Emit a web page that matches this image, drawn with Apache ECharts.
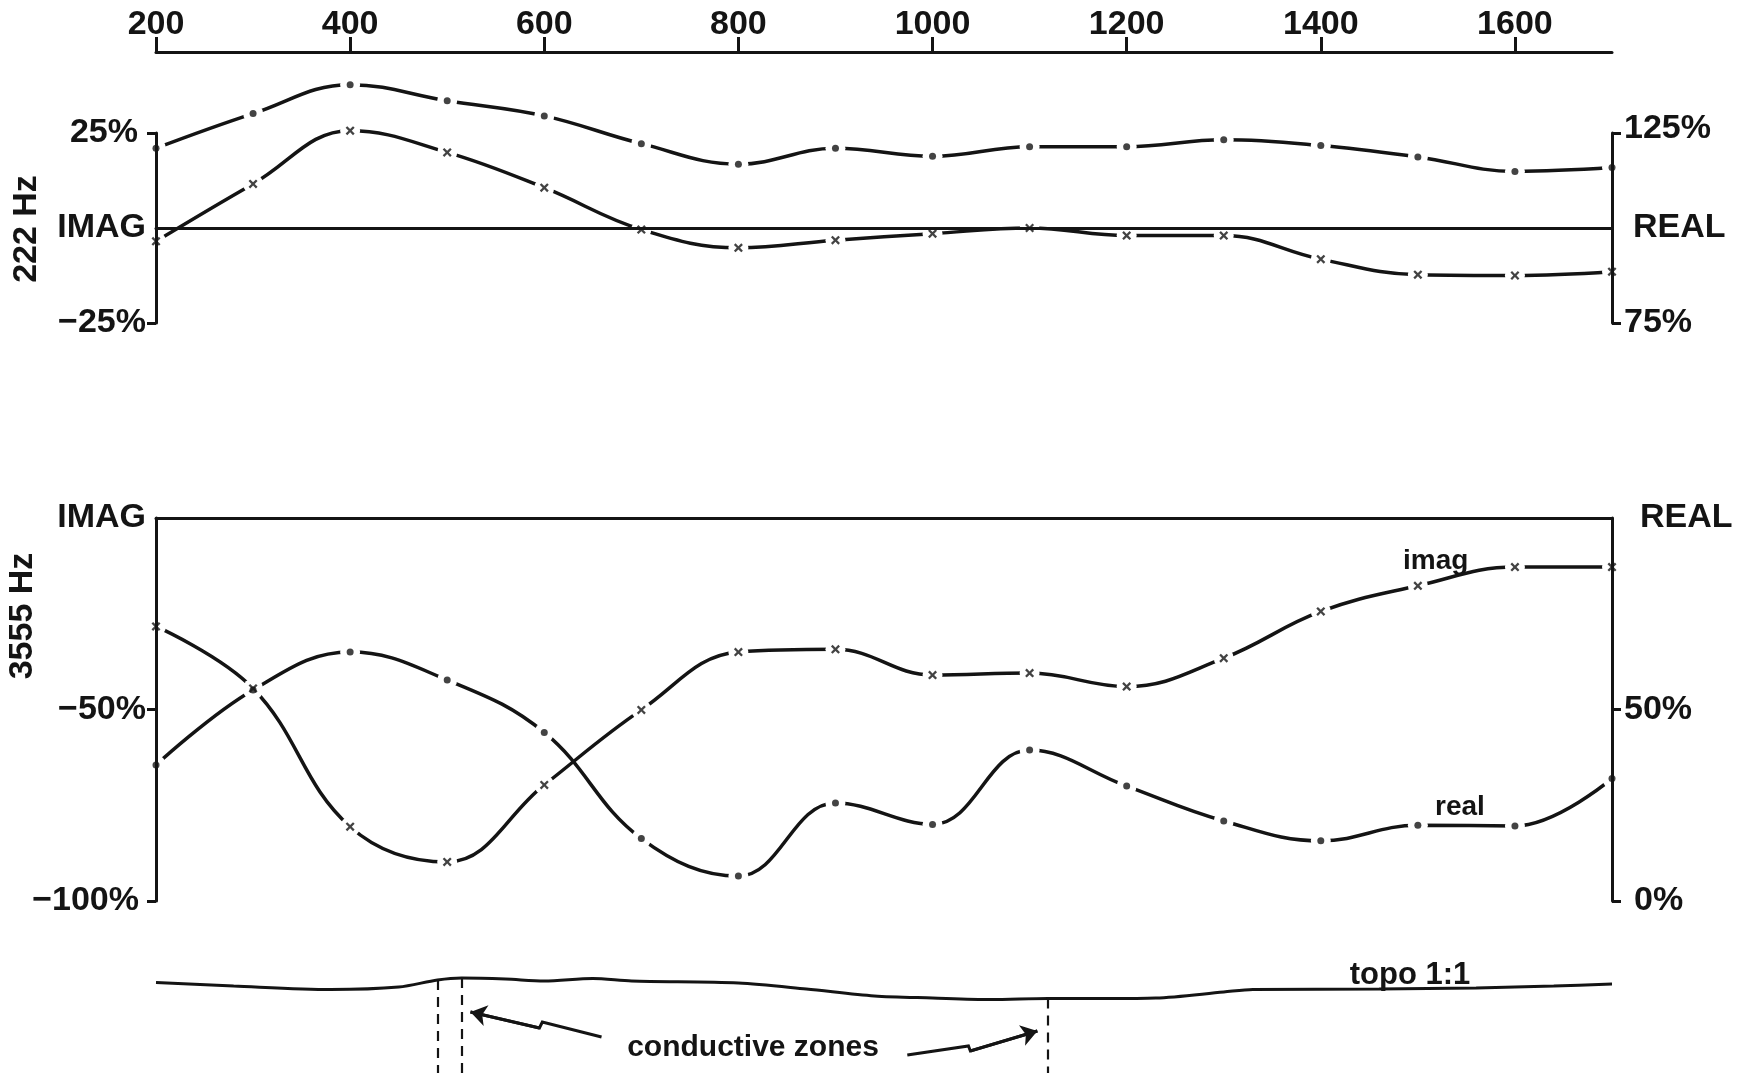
<!DOCTYPE html>
<html>
<head>
<meta charset="utf-8">
<title>222 Hz / 3555 Hz profile</title>
<script src="https://cdn.jsdelivr.net/npm/echarts@6/dist/echarts.min.js"></script>
<style>
  html, body { margin: 0; padding: 0; background: #fff; }
  #chart { width: 1749px; height: 1073px; }
</style>
</head>
<body>
<div id="chart"></div>
<script>
// stations along the profile
const stations = [200, 300, 400, 500, 600, 700, 800, 900, 1000, 1100, 1200, 1300, 1400, 1500, 1600, 1700];
const distanceTicks = [200, 400, 600, 800, 1000, 1200, 1400, 1600];

// 222 Hz : imag on the left axis, real on the right axis (percent)
const imag222 = [-3.5, 11.6, 25.6, 19.9, 10.6, -0.4, -5.2, -3.2, -1.5, 0, -2, -2, -8.2, -12.3, -12.5, -11.5];
const real222 = [121.0, 130.1, 137.7, 133.5, 129.5, 122.2, 116.8, 121.0, 118.9, 121.4, 121.4, 123.2, 121.7, 118.7, 114.9, 115.9];

// 3555 Hz
const imag3555 = [-28.3, -44.5, -80.6, -89.8, -69.7, -50.1, -35.0, -34.3, -41.0, -40.5, -44.0, -36.6, -24.4, -17.7, -12.8, -12.8];
const real3555 = [35.5, 55.1, 65.0, 57.7, 44.0, 16.3, 6.5, 25.6, 20.0, 39.4, 30.0, 20.9, 15.7, 19.8, 19.6, 32.0];

// topography trace, relative height (arbitrary units, 1:1)
const topoX = [200, 280, 380, 450, 490, 515, 560, 600, 650, 690, 800, 870, 940, 1000, 1060, 1119, 1180, 1230, 1300, 1330, 1460, 1560, 1640, 1700];
const topoH = [-0.5, -4, -7.5, -5, 2, 4, 3, 1, 3.5, 1, -1, -7, -14, -16, -17.5, -16.5, -16.5, -16, -10, -7.5, -7, -6, -4, -2];

// conductive zones picked on the profile
const zoneX = [490, 515, 1119];

// zigzag pointers, head first (profile x, relative height)
const arrowLeft = [[524, -30], [595, -46], [598, -40], [659, -55]];
const arrowRight = [[1108, -49], [1039, -69], [1037, -64], [974, -73]];

const INK = '#141414';
const FONT = '"Liberation Sans", Arial, Helvetica, sans-serif';
const X_MARK = 'path://M0,1.8 L1.8,0 L5,3.2 L8.2,0 L10,1.8 L6.8,5 L10,8.2 L8.2,10 L5,6.8 L1.8,10 L0,8.2 L3.2,5 Z';
const TOPO_MIN = -91, TOPO_MAX = 22;

const zip = (xs, ys) => xs.map((x, i) => [x, ys[i]]);
const txt = (extra) => Object.assign({ fontSize: 34, fontWeight: 'bold', fontFamily: FONT, color: INK }, extra || {});

// one plotted curve = smooth line with white gaps at stations + marker on top
function curve(ys, xi, yi, mark) {
  const data = zip(stations, ys);
  return [
    {
      type: 'line', xAxisIndex: xi, yAxisIndex: yi, data,
      smooth: 0.4, clip: false, z: 2,
      symbol: 'circle', symbolSize: 20, showAllSymbol: true,
      itemStyle: { color: '#fff' },
      lineStyle: { color: INK, width: 3.5 },
      emphasis: { disabled: true }, silent: true,
    },
    {
      type: 'scatter', xAxisIndex: xi, yAxisIndex: yi, data,
      clip: false, z: 3,
      symbol: mark === 'x' ? X_MARK : 'circle',
      symbolSize: mark === 'x' ? 9 : 7,
      itemStyle: { color: INK },
      emphasis: { disabled: true }, silent: true,
    },
  ];
}

const line = { show: true, onZero: false, lineStyle: { color: INK, width: 3 } };
const noAxis = { show: false };

function yAxis(grid, pos, min, max, interval, ticks, formatter, rich) {
  return {
    gridIndex: grid, type: 'value', position: pos, min, max, interval, z: 10,
    axisLine: line,
    axisTick: { show: true, inside: false, length: 9, customValues: ticks, lineStyle: { color: INK, width: 3 } },
    axisLabel: txt({ margin: pos === 'left' ? 10 : 12, formatter, rich }),
    splitLine: noAxis,
  };
}

function note(text, x, y, size, align) {
  return { type: 'text', x, y,
    style: { text, fontSize: size, fontWeight: 'bold', fontFamily: FONT, fill: INK, align, verticalAlign: 'middle' } };
}

const chart = echarts.init(document.getElementById('chart'), null, { renderer: 'canvas' });

const topoAt = (x) => topoH[topoX.indexOf(x)];

chart.setOption({
  animation: false,
  backgroundColor: '#fff',
  grid: [
    { left: 156, right: 137, top: 133, height: 190 },
    { left: 156, right: 137, top: 518, height: 383 },
    { left: 156, right: 137, top: 960, height: 113 },
  ],
  xAxis: [
    {
      gridIndex: 0, type: 'value', position: 'top', offset: 81, min: 200, max: 1700, interval: 200, z: 10,
      axisLine: line,
      axisTick: { show: true, inside: false, length: 15, customValues: distanceTicks, lineStyle: { color: INK, width: 3 } },
      axisLabel: txt({ customValues: distanceTicks, margin: 10, formatter: v => String(v) }),
      splitLine: noAxis,
    },
    {
      gridIndex: 0, type: 'value', position: 'bottom', min: 200, max: 1700, z: 10,
      axisLine: { show: true, onZero: true, onZeroAxisIndex: 0, lineStyle: { color: INK, width: 3 } },
      axisTick: noAxis, axisLabel: noAxis, splitLine: noAxis,
    },
    {
      gridIndex: 1, type: 'value', position: 'top', min: 200, max: 1700, z: 10,
      axisLine: line, axisTick: noAxis, axisLabel: noAxis, splitLine: noAxis,
    },
    { gridIndex: 2, type: 'value', min: 200, max: 1700, show: false },
  ],
  yAxis: [
    yAxis(0, 'left', -25, 25, 25, [-25, 25],
      v => v === 0 ? 'IMAG' : v > 0 ? '{a|' + v + '%}' : '−' + Math.abs(v) + '%',
      { a: txt({ padding: [0, 8, 0, 0] }) }),
    yAxis(0, 'right', 75, 125, 25, [75, 125],
      v => v === 100 ? '{r|REAL}' : v === 125 ? '{t|125%}' : v + '%',
      { r: txt({ padding: [0, 0, 0, 9] }), t: txt({ padding: [0, 0, 8, 0] }) }),
    yAxis(1, 'left', -100, 0, 50, [-100, -50],
      v => v === 0 ? 'IMAG' : v === -100 ? '{s|−100%}' : '−' + Math.abs(v) + '%',
      { s: txt({ padding: [0, 7, 0, 0] }) }),
    yAxis(1, 'right', 0, 100, 50, [0, 50],
      v => v === 100 ? '{r|REAL}' : v === 0 ? '{z|0%}' : v + '%',
      { r: txt({ padding: [0, 0, 0, 16] }), z: txt({ padding: [0, 0, 0, 10] }) }),
    { gridIndex: 2, type: 'value', min: TOPO_MIN, max: TOPO_MAX, show: false },
  ],
  series: [
    ...curve(real222, 1, 1, 'dot'),
    ...curve(imag222, 1, 0, 'x'),
    ...curve(imag3555, 2, 2, 'x'),
    ...curve(real3555, 2, 3, 'dot'),
    {
      type: 'line', xAxisIndex: 3, yAxisIndex: 4, data: zip(topoX, topoH),
      smooth: 0.3, symbol: 'none', silent: true,
      lineStyle: { color: INK, width: 3 },
      markLine: {
        silent: true, symbol: 'none', label: { show: false },
        lineStyle: { color: INK, width: 2.2, type: [10, 7] },
        data: zoneX.map(x => [{ coord: [x, topoAt(x)] }, { coord: [x, TOPO_MIN] }]),
      },
    },
    {
      type: 'lines', coordinateSystem: 'cartesian2d', xAxisIndex: 3, yAxisIndex: 4,
      polyline: true, silent: true, symbol: 'none',
      lineStyle: { color: INK, width: 3, opacity: 1, curveness: 0 },
      data: [arrowLeft, arrowRight].map(a => ({ coords: a })),
    },
    {
      type: 'lines', coordinateSystem: 'cartesian2d', xAxisIndex: 3, yAxisIndex: 4,
      silent: true, symbol: ['arrow', 'none'], symbolSize: 16,
      lineStyle: { color: INK, width: 3, opacity: 1, curveness: 0 },
      data: [arrowLeft, arrowRight].map(a => ({ coords: [a[0], a[1]] })),
    },
  ],
  graphic: [
    Object.assign(note('222 Hz', 27, 229, 34, 'center'), { rotation: Math.PI / 2 }),
    Object.assign(note('3555 Hz', 23, 616, 34, 'center'), { rotation: Math.PI / 2 }),
    note('imag', 1403, 561, 28, 'left'),
    note('real', 1435, 807, 28, 'left'),
    note('topo 1:1', 1410, 975, 31, 'center'),
    note('conductive zones', 753, 1048, 30, 'center'),
  ],
});
</script>
</body>
</html>
